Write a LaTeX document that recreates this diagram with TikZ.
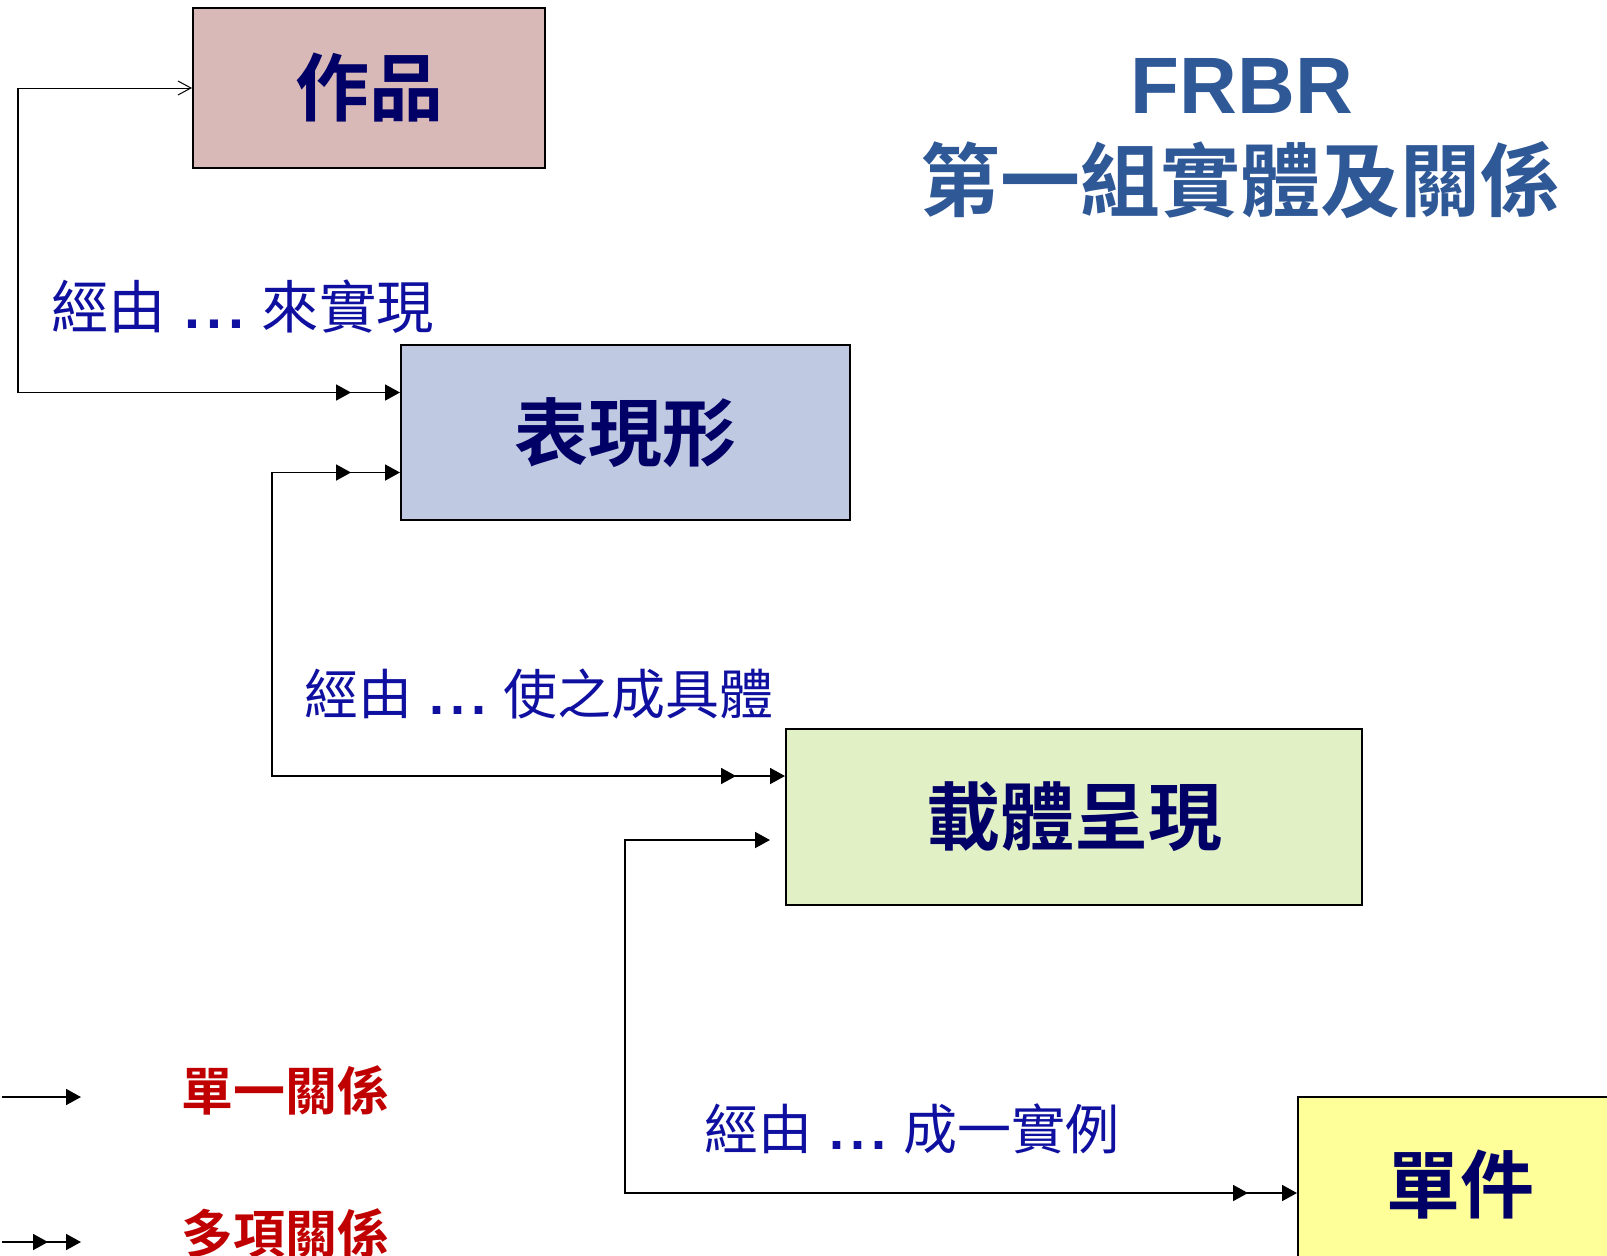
\documentclass[tikz,border=0pt]{standalone}
\usepackage{fontspec}
\usepackage{tikz}
\usetikzlibrary{arrows.meta,decorations.markings}
\setmainfont{Noto Sans CJK TC}[BoldFont={Noto Sans CJK TC Bold}]
\newfontfamily\latinfont{Liberation Sans}
\definecolor{boxtext}{RGB}{0,0,102}
\definecolor{labelblue}{RGB}{16,16,160}
\definecolor{titleblue}{RGB}{47,88,151}
\definecolor{legendred}{RGB}{192,0,0}
\definecolor{workfill}{RGB}{217,184,184}
\definecolor{exprfill}{RGB}{191,201,225}
\definecolor{manifill}{RGB}{226,240,197}
\definecolor{itemfill}{RGB}{255,255,153}
\def\tip{Triangle[length=7.5pt,width=8pt]}
\def\relgap{{\latinfont\ \hspace{1pt}\bfseries.\hspace{3pt}.\hspace{3pt}.\hspace{1pt}\ }}
\tikzset{
	entity/.style={draw,line width=1pt,inner sep=0pt,text=boxtext,font=\fontsize{37}{40}\selectfont\bfseries},
	rellabel/.style={anchor=west,inner sep=0pt,text=labelblue,font=\fontsize{27}{32}\selectfont},
	legendlabel/.style={anchor=west,inner sep=0pt,text=legendred,font=\fontsize{26}{30}\selectfont\bfseries},
	link/.style={line width=0.9pt},
	secondend/.style={postaction={decorate,decoration={markings,mark=at position -24.5pt with {\arrow{\tip}}}}},
	secondstart/.style={postaction={decorate,decoration={markings,mark=at position 24.5pt with {\arrowreversed{\tip}}}}},
}

\begin{document}
\begin{tikzpicture}[x=0.5pt,y=-0.5pt]
	\useasboundingbox (0,0) rectangle (1607,1255);
	\clip (0,0) rectangle (1607,1255);
	
	%the four entities
	\node[entity,fill=workfill,minimum width=176pt,minimum height=80pt] (work) at (369,88) {作品};
	\node[entity,fill=exprfill,minimum width=224.5pt,minimum height=87.5pt] (expr) at (625.5,432.5) {表現形};
	\node[entity,fill=manifill,minimum width=288pt,minimum height=88pt] (manif) at (1074,817) {載體呈現};
	\node[entity,fill=itemfill,minimum width=162pt,minimum height=88pt] (item) at (1460,1185) {單件};
	
	%title
	\node[text=titleblue,font=\fontsize{40}{46}\selectfont\latinfont\bfseries] (title) at (1242,86) {FRBR};
	\node[text=titleblue,font=\fontsize{40}{46}\selectfont\bfseries] (subtitle) at (1240,180) {第一組實體及關係};
	
	%work and expression
	\coordinate (bendwork) at (18,88);
	\draw[line width=0.5pt,-{Straight Barb[length=6.5pt,width=7pt]}] (bendwork) -- (work.west);
	\draw[link,-{\tip},secondend] (bendwork) |- ([yshift=20pt]expr.west);
	\node[rellabel,font=\fontsize{28.7}{32}\selectfont] (lblrealize) at (51,307) {經由\relgap 來實現};
	
	%expression and manifestation
	\draw[link,{\tip}-{\tip},secondstart,secondend] ([yshift=-20pt]expr.west) -- ++(-128,0) |- ([yshift=20.5pt]manif.west);
	\node[rellabel] (lblembody) at (304,694) {經由\relgap 使之成具體};
	
	%manifestation and item
	\draw[link,{\tip}-{\tip},secondend] ([xshift=-7.5pt,yshift=-11.5pt]manif.west) -- ++(-145,0) |- ([yshift=-4pt]item.west);
	\node[rellabel] (lblexemplify) at (704,1129) {經由\relgap 成一實例};
	
	%legend
	\coordinate (sglfrom) at (2,1097);
	\coordinate (sglto) at (81,1097);
	\coordinate (mulfrom) at (2,1242);
	\coordinate (multo) at (81,1242);
	\draw[link,-{\tip}] (sglfrom) -- (sglto);
	\draw[link,-{\tip},postaction={decorate,decoration={markings,mark=at position -16.5pt with {\arrow{\tip}}}}] (mulfrom) -- (multo);
	\node[legendlabel] (lgsingle) at (181,1090) {單一關係};
	\node[legendlabel] (lgmulti) at (181,1233) {多項關係};
\end{tikzpicture}
\end{document}
